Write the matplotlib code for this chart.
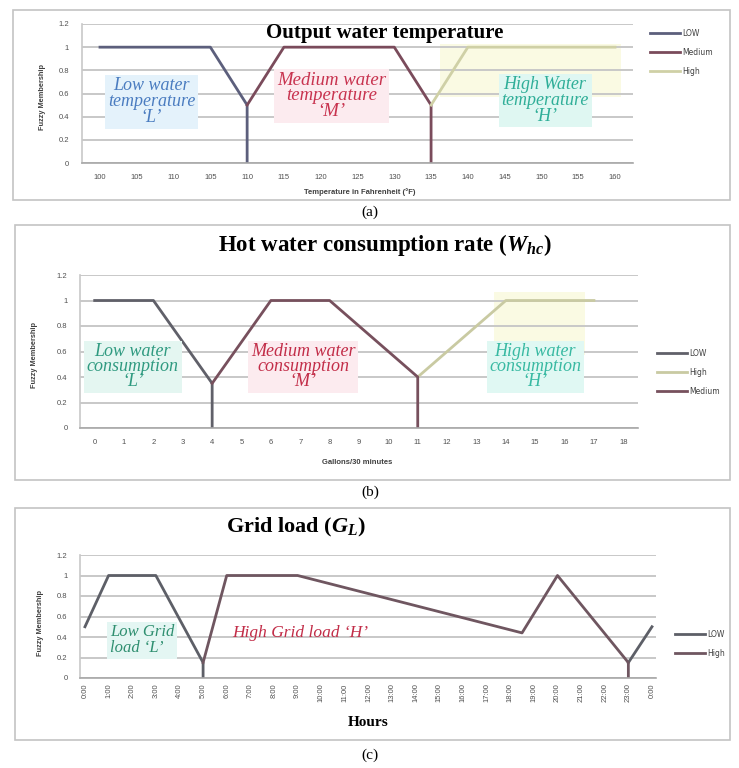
import numpy as np
import matplotlib
matplotlib.use('Agg')
import matplotlib.pyplot as plt
from matplotlib.patches import Rectangle

plt.rcParams['mathtext.fontset'] = 'custom'
plt.rcParams['mathtext.rm'] = 'Liberation Serif:bold'
plt.rcParams['mathtext.it'] = 'Liberation Serif:italic:bold'

SERIF = 'Liberation Serif'
SANS = 'Liberation Sans'

# ── Data ──────────────────────────────────────────────
# (a) output water temperature (category axis)
TEMP_TICKS = ['100', '105', '110', '105', '110', '115', '120', '125',
              '130', '135', '140', '145', '150', '155', '160']
temp_low_x = [0, 3, 4, 4]
temp_low_y = [1, 1, 0.5, 0]
temp_med_x = [4, 5, 8, 9, 9]
temp_med_y = [0.5, 1, 1, 0.5, 0]
temp_high_x = [9, 10, 14]
temp_high_y = [0.5, 1, 1]

# (b) hot water consumption rate, gallons / 30 min
CONS_TICKS = [str(i) for i in range(19)]
cons_low_x = [0, 2, 4, 4]
cons_low_y = [1, 1, 0.35, 0]
cons_high_x = [11, 14, 17]
cons_high_y = [0.4, 1, 1]
cons_med_x = [4, 6, 8, 11, 11]
cons_med_y = [0.35, 1, 1, 0.4, 0]

# (c) grid load over the day
GRID_TICKS = [f'{h}:00' for h in range(24)] + ['0:00']
grid_low_x = [0, 1, 3, 5, 5]
grid_low_y = [0.5, 1, 1, 0.15, 0]
grid_low2_x = [23, 24]
grid_low2_y = [0.15, 0.5]
grid_high_x = [5, 6, 9, 18.5, 20, 23, 23]
grid_high_y = [0.15, 1, 1, 0.44, 1, 0.15, 0]

Y_TICKS = [0, 0.2, 0.4, 0.6, 0.8, 1.0, 1.2]
Y_LABELS = ['0', '0.2', '0.4', '0.6', '0.8', '1', '1.2']

W, H = 739, 768
fig = plt.figure(figsize=(W / 100, H / 100), dpi=100)


def px_axes(x0, x1, ytop, ybot):
    return fig.add_axes([x0 / W, 1 - ybot / H, (x1 - x0) / W, (ybot - ytop) / H])


def frame(x0, x1, ytop, ybot):
    fig.patches.append(Rectangle((x0 / W, 1 - ybot / H), (x1 - x0) / W, (ybot - ytop) / H,
                                 transform=fig.transFigure, fill=False,
                                 edgecolor='#c4c4c4', lw=1.2))


def style(ax, ticks, xlim, rot=0, xpad=6):
    ax.set_ylim(0, 1.2)
    ax.set_xlim(*xlim)
    ax.set_yticks(Y_TICKS)
    ax.set_yticklabels(Y_LABELS, fontsize=5.5, color='#505050', family=SANS)
    ax.set_xticks(range(len(ticks)))
    ax.set_xticklabels(ticks, fontsize=5.5, color='#505050', family=SANS, rotation=rot)
    ax.tick_params(axis='y', length=0, pad=9)
    ax.tick_params(axis='x', length=0, pad=xpad)
    ax.grid(axis='y', color='#c8c8c8', lw=1.4)
    ax.set_axisbelow(True)
    for s in ['top', 'right']:
        ax.spines[s].set_visible(False)
    ax.spines['left'].set_color('#c8c8c8')
    ax.spines['bottom'].set_color('#a8a8a8')
    ax.spines['left'].set_linewidth(1.2)
    ax.spines['bottom'].set_linewidth(1.2)
    ax.set_facecolor('none')


def note(ax, x, y, s, color, bg, size, ha='center', ls=0.9):
    box = None if bg is None else dict(facecolor=bg, edgecolor='none', pad=2)
    ax.text(x, y, s, color=color, style='italic', family=SERIF, fontsize=size,
            ha=ha, va='center', linespacing=ls, bbox=box)


def ylab(x, y):
    fig.text(x / W, 1 - y / H, 'Fuzzy Membership', rotation=90, fontsize=5.3,
             fontweight='bold', color='#404040', family=SANS, ha='center', va='center')


# ── (a) Output water temperature ─────────────────────
frame(13, 730, 10, 200)
ax = px_axes(81.6, 633.4, 24, 163)
style(ax, TEMP_TICKS, (-0.5, 14.5), xpad=8)
ax.add_patch(Rectangle((9.25, 0.57), 4.9, 0.46, color='#fafae3', zorder=0, lw=0))
la, = ax.plot(temp_low_x, temp_low_y, color='#5c5f7c', lw=2, label='LOW')
ma, = ax.plot(temp_med_x, temp_med_y, color='#7a4b5b', lw=2, label='Medium')
ha, = ax.plot(temp_high_x, temp_high_y, color='#cfd0a6', lw=2, label='High')
note(ax, 1.4, 0.53, "Low water\ntemperature\n‘L’", '#4a7cc0', '#e4f2fb', 13)
note(ax, 6.3, 0.58, "Medium water\ntemperature\n‘M’", '#c8334f', '#fcebef', 13.5)
note(ax, 12.1, 0.54, "High Water\ntemperature\n‘H’", '#2fae98', '#dff7f2', 13)
fig.text(385 / W, 1 - 33 / H, 'Output water temperature', fontsize=15, fontweight='bold',
         family=SERIF, ha='center', va='center')
fig.text(360 / W, 1 - 192 / H, 'Temperature in Fahrenheit (°F)', fontsize=5.5,
         fontweight='bold', color='#404040', family=SANS, ha='center', va='center')
ylab(42, 97)
fig.legend(handles=[la, ma, ha], loc='upper left', bbox_to_anchor=(643 / W, 1 - 22 / H),
           frameon=False, fontsize=5.5, handlelength=4, handletextpad=0.2,
           labelspacing=1.3, labelcolor='#404040')
fig.text(370 / W, 1 - 212 / H, '(a)', fontsize=11, family=SERIF, ha='center', va='center')

# ── (b) Hot water consumption rate ───────────────────
frame(15, 730, 225, 480)
ax = px_axes(80, 638, 275, 428)
style(ax, CONS_TICKS, (-0.5, 18.5), xpad=8)
ax.add_patch(Rectangle((13.6, 0.57), 3.1, 0.5, color='#fafae3', zorder=0, lw=0))
lb, = ax.plot(cons_low_x, cons_low_y, color='#606069', lw=2, label='LOW')
hb, = ax.plot(cons_high_x, cons_high_y, color='#c9caa2', lw=2, label='High')
mb, = ax.plot(cons_med_x, cons_med_y, color='#77505d', lw=2, label='Medium')
note(ax, 1.3, 0.48, "Low water\nconsumption\n‘L’", '#2f9a80', '#e4f6f1', 13, ls=0.85)
note(ax, 7.1, 0.48, "Medium water\nconsumption\n‘M’", '#c22d48', '#fcebef', 13, ls=0.85)
note(ax, 15.0, 0.48, "High water\nconsumption\n‘H’", '#38b9a2', '#e0f8f3', 13, ls=0.85)
fig.text(385 / W, 1 - 245 / H, r'Hot water consumption rate ($W_{hc}$)', fontsize=16.5,
         fontweight='bold', family=SERIF, ha='center', va='center')
fig.text(357 / W, 1 - 462 / H, 'Gallons/30 minutes', fontsize=5.5,
         fontweight='bold', color='#404040', family=SANS, ha='center', va='center')
ylab(35, 355)
fig.legend(handles=[lb, hb, mb], loc='upper left', bbox_to_anchor=(650 / W, 1 - 342 / H),
           frameon=False, fontsize=5.5, handlelength=4, handletextpad=0.2,
           labelspacing=1.3, labelcolor='#404040')
fig.text(370 / W, 1 - 492 / H, '(b)', fontsize=11, family=SERIF, ha='center', va='center')

# ── (c) Grid load ─────────────────────────────────────
frame(15, 730, 508, 740)
ax = px_axes(80, 656, 555, 678)
style(ax, GRID_TICKS, (-0.21, 24.17), rot=90, xpad=4)
lc, = ax.plot(grid_low_x, grid_low_y, color='#5d5f67', lw=2, label='LOW')
ax.plot(grid_low2_x, grid_low2_y, color='#5d5f67', lw=2)
hc, = ax.plot(grid_high_x, grid_high_y, color='#6f5660', lw=2, label='High')
note(ax, 1.05, 0.37, "Low Grid\nload ‘L’", '#2f8f70', '#e4f6f3', 12, ha='left', ls=0.95)
note(ax, 9.1, 0.44, "High Grid load ‘H’", '#c22d48', None, 12.5)
fig.text(296 / W, 1 - 527 / H, r'Grid load ($G_L$)', fontsize=16,
         fontweight='bold', family=SERIF, ha='center', va='center')
fig.text(368 / W, 1 - 722 / H, 'Hours', fontsize=11,
         fontweight='bold', family=SERIF, ha='center', va='center')
ylab(40, 623)
fig.legend(handles=[lc, hc], loc='upper left', bbox_to_anchor=(668 / W, 1 - 623 / H),
           frameon=False, fontsize=5.5, handlelength=4, handletextpad=0.2,
           labelspacing=1.3, labelcolor='#404040')
fig.text(370 / W, 1 - 755 / H, '(c)', fontsize=11, family=SERIF, ha='center', va='center')

fig.savefig('out.png', dpi=100)
